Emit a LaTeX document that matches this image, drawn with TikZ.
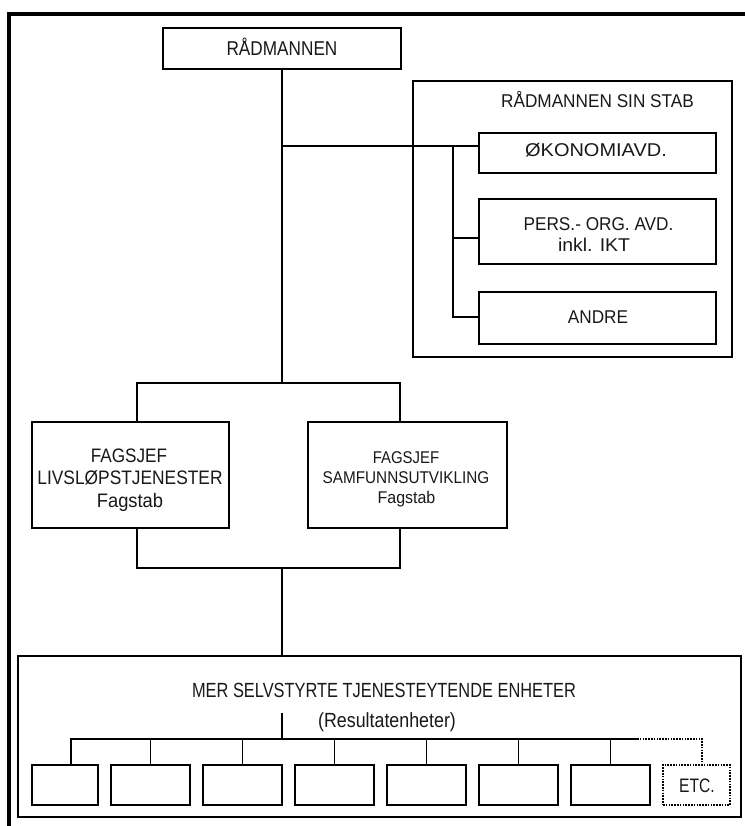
\documentclass[tikz,border=0pt]{standalone}
\usepackage{graphicx}
\usepackage{fontspec}
\setmainfont{Liberation Sans}
\newcommand\fsz[1]{\fontsize{#1}{#1}\selectfont}
% horizontally scaled text
\newcommand\hsc[2]{\scalebox{#1}[1]{#2}}
\begin{document}
\begin{tikzpicture}[x=1pt,y=-1pt,
  conn/.style={line width=1.7pt},
  dotconn/.style={line width=1.5pt, dash pattern=on 1.6pt off 1.2pt},
  box/.style={draw, line width=1.8pt, rectangle, inner sep=0pt},
  heavybox/.style={draw, line width=2.8pt, rectangle, inner sep=0pt},
  dotbox/.style={draw, line width=1.5pt, dash pattern=on 1.6pt off 1.2pt, rectangle, inner sep=0pt},
  lbl/.style={inner sep=0pt, anchor=base, text=black!90}]
\useasboundingbox (0,0) rectangle (744,826);
\fill[white] (0,0) rectangle (744,826);

% outer frame (runs off the right and bottom edges)
\draw[line width=4pt] (760,14) -- (9,14) -- (9,840);

% boxes
\node[heavybox, minimum width=238pt, minimum height=41pt] (rad) at (282,48.5) {};
\node[heavybox, minimum width=319pt, minimum height=276pt] (stab) at (572.5,219) {};
\node[box, minimum width=237pt, minimum height=40pt] (oko) at (597.5,153) {};
\node[box, minimum width=237pt, minimum height=65pt] (pers) at (597.5,231.5) {};
\node[box, minimum width=237pt, minimum height=52pt] (andre) at (597.5,318) {};
\node[box, minimum width=197pt, minimum height=106pt] (fagL) at (130.5,475) {};
\node[box, minimum width=199pt, minimum height=106pt] (fagR) at (407.5,475) {};
\node[heavybox, minimum width=723pt, minimum height=161pt] (enh) at (379.5,736.5) {};
\node[box, minimum width=66pt, minimum height=40pt] (u1) at (65,785) {};
\node[box, minimum width=79pt, minimum height=40pt] (u2) at (150.5,785) {};
\node[box, minimum width=79pt, minimum height=40pt] (u3) at (242.5,785) {};
\node[box, minimum width=79pt, minimum height=40pt] (u4) at (334.5,785) {};
\node[box, minimum width=79pt, minimum height=40pt] (u5) at (426.5,785) {};
\node[box, minimum width=79pt, minimum height=40pt] (u6) at (518.5,785) {};
\node[box, minimum width=79pt, minimum height=40pt] (u7) at (610.5,785) {};
\node[dotbox, minimum width=67pt, minimum height=40pt] (etc) at (696.5,785) {};

% labels
\node[lbl, font=\fsz{20}] (t-rad) at (282,55.5) {\hsc{0.86}{RÅDMANNEN}};
\node[lbl, font=\fsz{18.5}] (t-stab) at (597.5,107.5) {\hsc{0.93}{RÅDMANNEN SIN STAB}};
\node[lbl, font=\fsz{18.5}] (t-oko) at (596,156.5) {\hsc{1.08}{ØKONOMIAVD.}};
\node[lbl, font=\fsz{18.5}] (t-pers1) at (598.5,230) {\hsc{0.93}{PERS.- ORG. AVD.}};
\node[lbl, font=\fsz{18.5}] (t-pers2) at (594,251.5) {\hsc{1.05}{inkl. IKT}};
\node[lbl, font=\fsz{18.5}] (t-andre) at (598,323) {\hsc{0.93}{ANDRE}};
\node[lbl, font=\fsz{19.5}] (t-fl1) at (129,462) {\hsc{0.88}{FAGSJEF}};
\node[lbl, font=\fsz{19.5}] (t-fl2) at (130,484.5) {\hsc{0.89}{LIVSLØPSTJENESTER}};
\node[lbl, font=\fsz{19.5}] (t-fl3) at (130,507.5) {\hsc{0.94}{Fagstab}};
\node[lbl, font=\fsz{17}] (t-fr1) at (406,463) {\hsc{0.88}{FAGSJEF}};
\node[lbl, font=\fsz{17}] (t-fr2) at (406,483) {\hsc{0.9}{SAMFUNNSUTVIKLING}};
\node[lbl, font=\fsz{17}] (t-fr3) at (406.5,503) {\hsc{0.94}{Fagstab}};
\node[lbl, font=\fsz{20.5}] (t-enh1) at (384,697) {\hsc{0.8}{MER SELVSTYRTE TJENESTEYTENDE ENHETER}};
\node[lbl, font=\fsz{20.5}] (t-enh2) at (387,727) {\hsc{0.87}{(Resultatenheter)}};
\node[lbl, font=\fsz{19.5}] (t-etc) at (697,792) {\hsc{0.8}{ETC.}};

% junction points
\coordinate (jA) at (282,146);
\coordinate (ftop) at (282,383);
\coordinate (sA) at (453,146);
\coordinate (sB) at (453,238);
\coordinate (sC) at (453,317);
\coordinate (fl) at (137,383);
\coordinate (fr) at (400,383);
\coordinate (bl) at (137,568);
\coordinate (br) at (400,568);
\coordinate (bm) at (282,568);
\coordinate (um) at (282,713);
\coordinate (uh) at (282,739);
\coordinate (h0) at (71,739);
\coordinate (h1) at (637,739);
\coordinate (h2) at (702,739);

% connectors: top level
\draw[conn] (rad.south) -- (ftop);
\draw[conn] (jA) -- (jA -| oko.west);
\draw[conn] (sA) -- (sC) -- (sC -| andre.west);
\draw[conn] (sB) -- (sB -| pers.west);

% connectors: fagsjef level
\draw[conn] (fl |- fagL.north) -- (fl) -- (fr) -- (fr |- fagR.north);
\draw[conn] (bl |- fagL.south) -- (bl) -- (br) -- (br |- fagR.south);
\draw[conn] (bm) -- (bm |- enh.north);

% connectors: units
\draw[conn] (um) -- (uh);
\draw[conn] (h0 |- u1.north) -- (h0) -- (h1);
\foreach \u in {u2,u3,u4,u5,u6,u7}
  \draw[conn] (\u.north |- h0) -- (\u.north);
\draw[dotconn] (h1) -- (h2) -- (h2 |- etc.north);
\end{tikzpicture}
\end{document}
